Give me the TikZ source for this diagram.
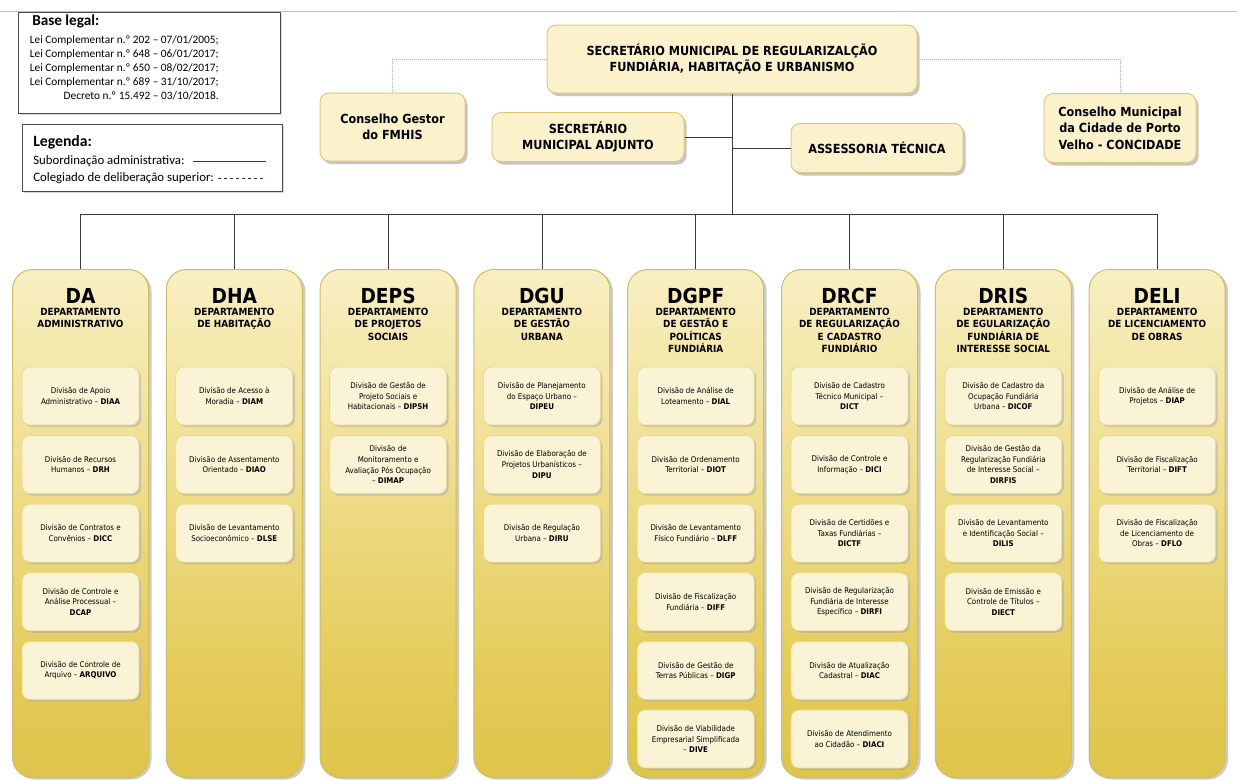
\documentclass[tikz,border=0pt]{standalone}
\usepackage{fontspec}
\setmainfont{DejaVu Sans Condensed}
\newfontfamily\calib{Carlito}
\usetikzlibrary{shadows}
\newdimen\upx \upx=0.75pt
\definecolor{depttop}{HTML}{FFFCEC}
\definecolor{deptlight}{HTML}{FCF6DC}
\definecolor{deptmid}{HTML}{F3E6A4}
\definecolor{deptmid2}{HTML}{E4CB58}
\definecolor{deptbot}{HTML}{D3B32A}
\definecolor{deptline}{HTML}{D2BC5C}
\definecolor{divfill}{HTML}{FBF3D5}
\definecolor{divline}{HTML}{E8D99A}
\definecolor{topfill}{HTML}{FBF2CC}
\definecolor{topline}{HTML}{DCC97A}
\definecolor{connc}{HTML}{3A3A3A}
\definecolor{dotc}{HTML}{D2BA48}
\pgfdeclareverticalshading{deptshade}{100bp}{color(0bp)=(deptbot); color(35bp)=(deptmid2); color(64bp)=(deptmid); color(84bp)=(deptlight); color(100bp)=(depttop)}
\tikzset{
  topbox/.style={draw=topline, line width=1\upx, fill=topfill, rounded corners=9\upx, align=center,
     font=\fontsize{9.4}{12.4}\selectfont\bfseries, inner sep=0pt,
     drop shadow={shadow xshift=2.5\upx, shadow yshift=-3\upx, fill=black!45, opacity=0.5}},
  deptbox/.style={draw=deptline, line width=1\upx, shading=deptshade, rounded corners=20\upx,
     minimum width=136\upx, minimum height=508\upx, anchor=north, inner sep=0pt,
     drop shadow={shadow xshift=3\upx, shadow yshift=-2\upx, fill=black!40, opacity=0.5}},
  divbox/.style={draw=divline, line width=0.8\upx, fill=divfill, rounded corners=8\upx,
     minimum width=117\upx, minimum height=58\upx, inner sep=0pt, align=center,
     font=\fontsize{5.9}{8}\selectfont,
     drop shadow={shadow xshift=2\upx, shadow yshift=-2\upx, fill=black!35, opacity=0.5}},
  abbr/.style={font=\fontsize{15.5}{18}\selectfont\bfseries, inner sep=0pt},
  deptsub/.style={font=\fontsize{7.4}{9.25}\selectfont\bfseries, align=center, inner sep=0pt, anchor=north},
  conn/.style={draw=connc, line width=0.8\upx},
  dotline/.style={draw=dotc, line width=1\upx, dash pattern=on 1\upx off 1\upx},
  infobox/.style={draw=black!70, line width=1\upx, fill=white,
     drop shadow={shadow xshift=1.5\upx, shadow yshift=-1.5\upx, fill=black!30, opacity=0.5}},
}
\newcommand\mydept[5]{%
  \node[deptbox] (#1) at (#2,269) {};
  \node[abbr] (#1-abbr) at (#2,296) {#3};
  \node[deptsub] (#1-sub) at (#2,308) {#4};
  \foreach \t [count=\k from 0] in {#5} {
    \node[divbox] (#1-\k) at ({#2},{396+68.6*\k}) {\t};
  }
  \draw[conn] (bus) -| (#1.north);
}
\begin{document}
\begin{tikzpicture}[x=0.75pt,y=-0.75pt]
\useasboundingbox (0,0) rectangle (1237,779);
\fill[white] (0,0) rectangle (1237,779);
\draw[black!25, line width=1\upx] (0,11) -- (1237,11);

% Base legal
\node[infobox, minimum width=262\upx, minimum height=101\upx, anchor=north west] (baselegal) at (18,12) {};
\node[anchor=west, inner sep=0pt, font=\calib\fontsize{11.4}{13}\selectfont\bfseries] (bltitle) at (32,21) {Base legal:};
\node[anchor=north east, inner sep=0pt, align=right, font=\calib\fontsize{8.5}{10.6}\selectfont] (bltext) at (219,35)
 {Lei Complementar n.º 202 – 07/01/2005;\\Lei Complementar n.º 648 – 06/01/2017;\\Lei Complementar n.º 650 – 08/02/2017;\\Lei Complementar n.º 689 – 31/10/2017;\\Decreto n.º 15.492 – 03/10/2018.};

% Legenda
\node[infobox, minimum width=260\upx, minimum height=67\upx, anchor=north west] (legenda) at (22,124) {};
\node[anchor=west, inner sep=0pt, font=\calib\fontsize{11.8}{13}\selectfont\bfseries] (legtitle) at (33,142) {Legenda:};
\node[anchor=west, inner sep=0pt, font=\calib\fontsize{9.6}{11}\selectfont] (leg1) at (33,161) {Subordinação administrativa:};
\node[anchor=west, inner sep=0pt, font=\calib\fontsize{9.6}{11}\selectfont] (leg2) at (33,178) {Colegiado de deliberação superior:};
\coordinate (leg1a) at (193,161); \coordinate (leg1b) at (266,161);
\coordinate (leg2a) at (218,178); \coordinate (leg2b) at (266,178);
\draw[black!80, line width=1\upx] (leg1a) -- (leg1b);
\draw[black!80, line width=1\upx, dash pattern=on 3\upx off 3\upx] (leg2a) -- (leg2b);

% Top boxes
\node[topbox, minimum width=370\upx, minimum height=68\upx] (main) at (732,59)
 {SECRETÁRIO MUNICIPAL DE REGULARIZALÇÃO\\FUNDIÁRIA, HABITAÇÃO E URBANISMO};
\node[topbox, minimum width=145\upx, minimum height=68\upx] (CG) at (392.5,127) {Conselho Gestor\\do FMHIS};
\node[topbox, minimum width=192\upx, minimum height=49\upx] (SMA) at (588,137) {SECRETÁRIO\\MUNICIPAL ADJUNTO};
\node[topbox, minimum width=172\upx, minimum height=49\upx] (AT) at (877,148) {ASSESSORIA TÉCNICA};
\node[topbox, minimum width=152\upx, minimum height=69\upx] (CM) at (1120,128) {Conselho Municipal\\da Cidade de Porto\\Velho - CONCIDADE};

\coordinate (bus) at (732,214);
\draw[dotline] (main.west) -| (CG.north);
\draw[dotline] (main.east) -| (CM.north);
\draw[conn] (main.south) -- (bus);
\draw[conn] (SMA.east) -- (SMA.east -| main.south);
\draw[conn] (AT.west) -- (AT.west -| main.south);

\mydept{DA}{80.5}{DA}{DEPARTAMENTO\\ADMINISTRATIVO}{
 {Divisão de Apoio\\Administrativo – \textbf{DIAA}},
 {Divisão de Recursos\\Humanos – \textbf{DRH}},
 {Divisão de Contratos e\\Convênios – \textbf{DICC}},
 {Divisão de Controle e\\Análise Processual –\\\textbf{DCAP}},
 {Divisão de Controle de\\Arquivo – \textbf{ARQUIVO}}}
\mydept{DHA}{234.3}{DHA}{DEPARTAMENTO\\DE HABITAÇÃO}{
 {Divisão de Acesso à\\Moradia – \textbf{DIAM}},
 {Divisão de Assentamento\\Orientado – \textbf{DIAO}},
 {Divisão de Levantamento\\Socioeconômico – \textbf{DLSE}}}
\mydept{DEPS}{388.1}{DEPS}{DEPARTAMENTO\\DE PROJETOS\\SOCIAIS}{
 {Divisão de Gestão de\\Projeto Sociais e\\Habitacionais – \textbf{DIPSH}},
 {Divisão de\\Monitoramento e\\Avaliação Pós Ocupação\\– \textbf{DIMAP}}}
\mydept{DGU}{541.9}{DGU}{DEPARTAMENTO\\DE GESTÃO\\URBANA}{
 {Divisão de Planejamento\\do Espaço Urbano –\\\textbf{DIPEU}},
 {Divisão de Elaboração de\\Projetos Urbanísticos –\\\textbf{DIPU}},
 {Divisão de Regulação\\Urbana – \textbf{DIRU}}}
\mydept{DGPF}{695.7}{DGPF}{DEPARTAMENTO\\DE GESTÃO E\\POLÍTICAS\\FUNDIÁRIA}{
 {Divisão de Análise de\\Loteamento – \textbf{DIAL}},
 {Divisão de Ordenamento\\Territorial – \textbf{DIOT}},
 {Divisão de Levantamento\\Físico Fundiário – \textbf{DLFF}},
 {Divisão de Fiscalização\\Fundiária – \textbf{DIFF}},
 {Divisão de Gestão de\\Terras Públicas – \textbf{DIGP}},
 {Divisão de Viabilidade\\Empresarial Simplificada\\– \textbf{DIVE}}}
\mydept{DRCF}{849.5}{DRCF}{DEPARTAMENTO\\DE REGULARIZAÇÃO\\E CADASTRO\\FUNDIÁRIO}{
 {Divisão de Cadastro\\Técnico Municipal –\\\textbf{DICT}},
 {Divisão de Controle e\\Informação – \textbf{DICI}},
 {Divisão de Certidões e\\Taxas Fundiárias –\\\textbf{DICTF}},
 {Divisão de Regularização\\Fundiária de Interesse\\Específico – \textbf{DIRFI}},
 {Divisão de Atualização\\Cadastral – \textbf{DIAC}},
 {Divisão de Atendimento\\ao Cidadão – \textbf{DIACI}}}
\mydept{DRIS}{1003.3}{DRIS}{DEPARTAMENTO\\DE EGULARIZAÇÃO\\FUNDIÁRIA DE\\INTERESSE SOCIAL}{
 {Divisão de Cadastro da\\Ocupação Fundiária\\Urbana – \textbf{DICOF}},
 {Divisão de Gestão da\\Regularização Fundiária\\de Interesse Social –\\\textbf{DIRFIS}},
 {Divisão de Levantamento\\e Identificação Social –\\\textbf{DILIS}},
 {Divisão de Emissão e\\Controle de Títulos –\\\textbf{DIECT}}}
\mydept{DELI}{1157.1}{DELI}{DEPARTAMENTO\\DE LICENCIAMENTO\\DE OBRAS}{
 {Divisão de Análise de\\Projetos – \textbf{DIAP}},
 {Divisão de Fiscalização\\Territorial – \textbf{DIFT}},
 {Divisão de Fiscalização\\de Licenciamento de\\Obras – \textbf{DFLO}}}
\end{tikzpicture}
\end{document}
